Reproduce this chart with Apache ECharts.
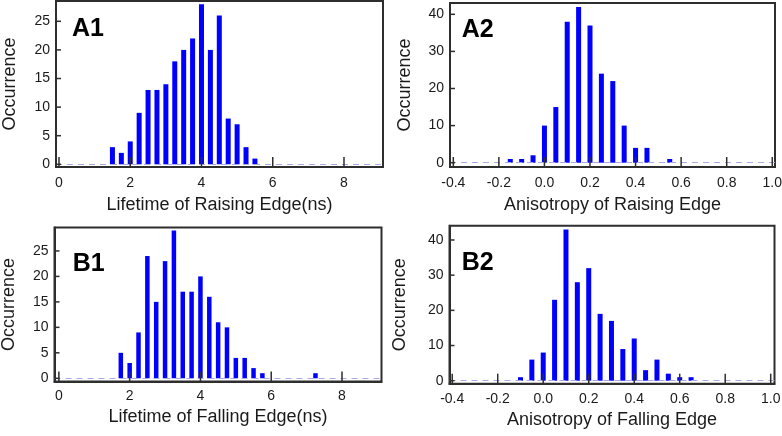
<!DOCTYPE html>
<html>
<head>
<meta charset="utf-8">
<script src="https://cdn.jsdelivr.net/npm/echarts@6/dist/echarts.min.js"></script>
<style>html,body{margin:0;padding:0;background:#fff}#c{width:782px;height:436px}</style>
</head>
<body>
<div id="c"></div>
<script>
// ---- data ----
const a1X = [1.5, 1.75, 2.0, 2.25, 2.5, 2.75, 3.0, 3.25, 3.5, 3.75, 4.0, 4.25, 4.5, 4.75, 5.0, 5.25, 5.5];
const a1Y = [3, 2, 4, 9, 13, 13, 14, 18, 20, 22, 28, 20, 26, 8, 7, 3, 1];
const a2X = [-0.15, -0.1, -0.05, 0.0, 0.05, 0.1, 0.15, 0.2, 0.25, 0.3, 0.35, 0.4, 0.45, 0.55];
const a2Y = [1, 1, 2, 10, 15, 38, 42, 37, 24, 22, 10, 4, 4, 1];
const b1X = [1.75, 2.0, 2.25, 2.5, 2.75, 3.0, 3.25, 3.5, 3.75, 4.0, 4.25, 4.5, 4.75, 5.0, 5.25, 5.5, 5.75, 7.25];
const b1Y = [5, 3, 9, 24, 15, 23, 29, 17, 17, 20, 16, 11, 10, 4, 4, 2, 1, 1];
const b2X = [-0.1, -0.05, 0.0, 0.05, 0.1, 0.15, 0.2, 0.25, 0.3, 0.35, 0.4, 0.45, 0.5, 0.55, 0.6, 0.65];
const b2Y = [1, 6, 8, 23, 43, 28, 32, 19, 17, 9, 12, 3, 6, 2, 1, 1];

const lifetimeTicks = [0, 2, 4, 6, 8];
const anisoTicks = [-0.4, -0.2, 0.0, 0.2, 0.4, 0.6, 0.8, 1.0];
const yTicksA1 = [0, 5, 10, 15, 20, 25];
const yTicksB1 = [0, 5, 10, 15, 20, 25];
const yTicks2 = [0, 10, 20, 30, 40];

const xNames = ['Lifetime of Raising Edge(ns)', 'Anisotropy of Raising Edge', 'Lifetime of Falling Edge(ns)', 'Anisotropy of Falling Edge'];
const yName = 'Occurrence';
const panelLabels = ['A1', 'A2', 'B1', 'B2'];

// ---- layout ----
const FONT = '"Liberation Sans", Arial, sans-serif';
const TXT = '#1a1a1a';
const EDGE = '#2e2e2e';
const grids = [
  {left: 56, top: 1, width: 327, height: 166},
  {left: 450, top: 3, width: 325, height: 164},
  {left: 54.5, top: 227.5, width: 327, height: 154},
  {left: 449.5, top: 225.7, width: 325, height: 158}
];
const xRanges = [[-0.084, 9.095], [-0.4145, 1.012], [-0.124, 9.116], [-0.412, 1.0167]];
const yRanges = [[-0.47, 28.55], [-1.16, 43.05], [-0.63, 29.6], [-0.85, 44.06]];
const xTickSets = [lifetimeTicks, anisoTicks, lifetimeTicks, anisoTicks];
const yTickSets = [yTicksA1, yTicks2, yTicksB1, yTicks2];
const xFmt = [v => String(Math.round(v)), v => v.toFixed(1), v => String(Math.round(v)), v => v.toFixed(1)];
const xNameGap = [29, 29, 27, 27];
const yNameGap = [36.5, 35.5, 36.5, 40];
const xLabelMargin = [9, 9, 8, 8];
const labelPos = [[72, 29], [461.7, 30], [72.7, 264.3], [461.7, 263.3]];
const barW = [5, 5, 4.5, 5];
const seriesX = [a1X, a2X, b1X, b2X];
const seriesY = [a1Y, a2Y, b1Y, b2Y];

const X_TICK_LEN = 9, Y_TICK_LEN = 4;

function tickSeries(i) {
  const xr = xRanges[i], yr = yRanges[i];
  const data = xTickSets[i].map(v => [v, yr[0], 0]).concat(yTickSets[i].map(v => [xr[0], v, 1]));
  return {
    type: 'custom', xAxisIndex: i, yAxisIndex: i, silent: true, z: 6, clip: false,
    data: data,
    renderItem: function (params, api) {
      const p = api.coord([api.value(0), api.value(1)]);
      const horiz = api.value(2) === 1;
      return {
        type: 'line',
        shape: horiz ? {x1: p[0], y1: p[1], x2: p[0] + Y_TICK_LEN + 1, y2: p[1]}
                     : {x1: p[0], y1: p[1], x2: p[0], y2: p[1] - X_TICK_LEN - 1},
        style: {stroke: EDGE, lineWidth: 1.5}
      };
    }
  };
}

const option = {
  animation: false,
  backgroundColor: '#fff',
  grid: grids.map(g => Object.assign({show: true, borderColor: EDGE, borderWidth: 2, backgroundColor: 'transparent', containLabel: false, outerBoundsMode: 'none'}, g)),
  xAxis: grids.map((g, i) => ({
    type: 'value', gridIndex: i,
    min: xRanges[i][0], max: xRanges[i][1],
    name: xNames[i], nameLocation: 'middle', nameGap: xNameGap[i],
    nameTextStyle: {fontFamily: FONT, fontSize: 18, color: TXT},
    axisLine: {show: true, onZero: false, lineStyle: {color: EDGE, width: 2}},
    axisTick: {show: false},
    axisLabel: {fontFamily: FONT, fontSize: 14, color: TXT, margin: xLabelMargin[i], customValues: xTickSets[i], formatter: xFmt[i]},
    splitLine: {show: false}
  })),
  yAxis: grids.map((g, i) => ({
    type: 'value', gridIndex: i,
    min: yRanges[i][0], max: yRanges[i][1],
    name: yName, nameLocation: 'middle', nameGap: yNameGap[i],
    nameTextStyle: {fontFamily: FONT, fontSize: 18, color: TXT},
    axisLine: {show: true, onZero: false, lineStyle: {color: EDGE, width: 2}},
    axisTick: {show: false},
    axisLabel: {fontFamily: FONT, fontSize: 14, color: TXT, margin: 6, customValues: yTickSets[i], formatter: v => String(Math.round(v))},
    splitLine: {show: false}
  })),
  series: grids.map((g, i) => ({
    type: 'bar', xAxisIndex: i, yAxisIndex: i,
    barWidth: barW[i],
    itemStyle: {color: '#0000ff'},
    data: seriesX[i].map((x, k) => [x, seriesY[i][k]]),
    markLine: {
      silent: true, symbol: 'none', label: {show: false},
      lineStyle: {color: '#a9a9e6', type: [6, 5], width: 1},
      data: [{yAxis: 0}]
    },
    z: 3
  })).concat(grids.map((g, i) => tickSeries(i))),
  graphic: panelLabels.map((t, i) => ({
    type: 'text', x: labelPos[i][0], y: labelPos[i][1], z: 10,
    style: {text: t, font: 'bold 25px ' + FONT, fill: '#000', textVerticalAlign: 'middle', verticalAlign: 'middle'}
  }))
};

const chart = echarts.init(document.getElementById('c'), null, {renderer: 'canvas'});
chart.setOption(option);
</script>
</body>
</html>
